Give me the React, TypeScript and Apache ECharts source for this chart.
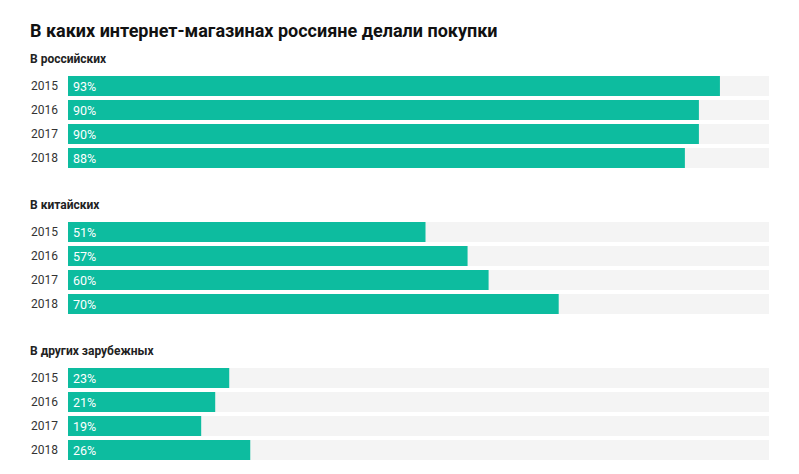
import React, { useEffect, useRef } from "react";
import * as echarts from "echarts";

const title = "В каких интернет-магазинах россияне делали покупки";
const groupNames = ["В российских", "В китайских", "В других зарубежных"];
const years = ["2015", "2016", "2017", "2018"];
const russian = [93, 90, 90, 88];
const chinese = [51, 57, 60, 70];
const foreign = [23, 21, 19, 26];
const groupValues = [russian, chinese, foreign];

const TEAL = "#0dbc9f";
const BG = "#f4f4f4";
const FONT = "Roboto, 'Noto Sans', sans-serif";

export default function App() {
  const ref = useRef<HTMLDivElement>(null);
  useEffect(() => {
    if (!ref.current) return;
    const chart = echarts.init(ref.current, undefined, { renderer: "svg" });
    const tops = [74, 220, 366];
    const grids = tops.map((t) => ({ left: 68, width: 701, top: t, height: 96 }));
    const xAxes = tops.map((_, i) => ({
      type: "value" as const,
      gridIndex: i,
      min: 0,
      max: 100,
      show: false,
    }));
    const yAxes = tops.map((_, i) => ({
      type: "category" as const,
      gridIndex: i,
      data: years,
      inverse: true,
      axisLine: { show: false },
      axisTick: { show: false },
      axisLabel: { color: "#333", fontSize: 12, fontFamily: FONT, margin: 10 },
    }));
    const series = groupValues.map((vals, i) => ({
      type: "bar" as const,
      xAxisIndex: i,
      yAxisIndex: i,
      data: vals,
      barWidth: 20,
      itemStyle: { color: TEAL },
      showBackground: true,
      backgroundStyle: { color: BG },
      label: {
        show: true,
        position: "insideLeft" as const,
        distance: 5,
        color: "#fff",
        fontSize: 12.5,
        fontFamily: FONT,
        formatter: "{c}%",
      },
    }));
    const graphic = [
      {
        type: "text" as const,
        x: 30,
        y: 30,
        style: {
          text: title,
          fill: "#111",
          font: `bold 18px ${FONT}`,
          verticalAlign: "middle" as const,
        },
      },
      ...groupNames.map((n, i) => ({
        type: "text" as const,
        x: 30,
        y: tops[i] - 14.7,
        style: {
          text: n,
          fill: "#222",
          font: `bold 12px ${FONT}`,
          verticalAlign: "middle" as const,
        },
      })),
    ];
    chart.setOption({
      animation: false,
      backgroundColor: "#fff",
      graphic,
      grid: grids,
      xAxis: xAxes,
      yAxis: yAxes,
      series,
    });
    return () => chart.dispose();
  }, []);
  return (
    <div
      ref={ref}
      style={{ position: "fixed", left: 0, top: 0, width: 799, height: 474 }}
    />
  );
}
